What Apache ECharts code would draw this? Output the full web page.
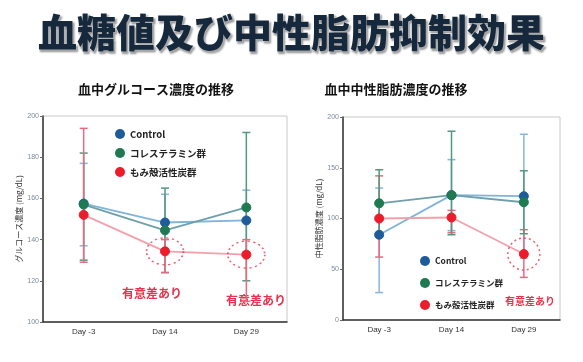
<!DOCTYPE html>
<html><head><meta charset="utf-8">
<script src="https://cdn.jsdelivr.net/npm/echarts@6/dist/echarts.min.js"></script>
<style>html,body{margin:0;padding:0;background:#fff}#c{width:583px;height:362px}</style>
</head><body><div id="c"></div>
<script>
const categories = ['Day -3', 'Day 14', 'Day 29'];
const seriesNames = ['Control', 'コレステラミン群', 'もみ殻活性炭群'];

// Glucose (mg/dL)
const gluControl = [157.5, 148.3, 149.3];
const gluControlHigh = [177, 162, 164];
const gluControlLow = [137, 134, 134];
const gluChol = [157, 144.5, 155.6];
const gluCholHigh = [182, 165, 192];
const gluCholLow = [130, 124, 120];
const gluMomi = [152, 134.3, 132.7];
const gluMomiHigh = [194, 140, 140];
const gluMomiLow = [129, 124, 110];
const gluTicks = [100, 120, 140, 160, 180, 200];

// Triglyceride (mg/dL)
const tgControl = [84, 123, 122];
const tgControlHigh = [130, 158, 183];
const tgControlLow = [27, 88, 61];
const tgChol = [115, 123, 116];
const tgCholHigh = [148, 186, 147];
const tgCholLow = [82, 84, 85];
const tgMomi = [100, 101, 65];
const tgMomiHigh = [142, 108, 89];
const tgMomiLow = [62, 86, 42];
const tgTicks = [0, 50, 100, 150, 200];

// significant points: [category index, value]
const gluSignif = [[1, 134.3], [2, 132.7]];
const tgSignif = [[2, 65]];

const markColors = ['#1d5c98', '#1f7a52', '#ec1c2a'];
const lineColors = ['#7fb4dc', '#6f9fa8', '#f2a0ac'];
const barColors = ['#86b6da', '#4f9a7c', '#e86a80'];

const chart = echarts.init(document.getElementById('c'));
const FONT = '"Noto Sans CJK JP", sans-serif';

function lineSeries(name, xi, yi, data, k) {
  return {
    type: 'line', name: name, xAxisIndex: xi, yAxisIndex: yi, data: data, z: 5,
    symbol: 'circle', symbolSize: 9,
    itemStyle: { color: markColors[k], borderColor: markColors[k] },
    lineStyle: { color: lineColors[k], width: 1.8 }
  };
}
function errSeries(name, xi, yi, lows, highs, k, z) {
  const color = barColors[k];
  return {
    type: 'custom', name: name, xAxisIndex: xi, yAxisIndex: yi, z: z,
    itemStyle: { color: markColors[k] },
    data: lows.map((l, i) => [i, l, highs[i]]),
    renderItem: function (params, api) {
      const lo = api.coord([api.value(0), api.value(1)]);
      const hi = api.coord([api.value(0), api.value(2)]);
      const w = 4;
      const st = { stroke: color, lineWidth: 1.5 };
      return { type: 'group', children: [
        { type: 'line', shape: { x1: lo[0], y1: lo[1], x2: hi[0], y2: hi[1] }, style: st },
        { type: 'line', shape: { x1: lo[0] - w, y1: lo[1], x2: lo[0] + w, y2: lo[1] }, style: st },
        { type: 'line', shape: { x1: hi[0] - w, y1: hi[1], x2: hi[0] + w, y2: hi[1] }, style: st }
      ]};
    }
  };
}
function ringSeries(xi, yi, data, size) {
  return {
    type: 'scatter', xAxisIndex: xi, yAxisIndex: yi, data: data, z: 6,
    symbol: 'circle', symbolSize: size, silent: true,
    itemStyle: { color: 'rgba(0,0,0,0)', borderColor: '#e8384f', borderWidth: 1.5, borderType: [2, 3] }
  };
}

const yLabel = { fontSize: 7, color: '#7d8a9a' };
const xLabel = { fontSize: 8, color: '#333', margin: 6 };

chart.setOption({
  animation: false,
  backgroundColor: '#fff',
  title: [
    { text: '血糖値及び中性脂肪抑制効果', left: 'center', top: 8,
      textStyle: { fontFamily: FONT, fontSize: 39, fontWeight: 900, color: '#16283c',
        textBorderColor: '#ffffff', textBorderWidth: 1,
        textShadowColor: 'rgba(0,0,0,0.35)', textShadowOffsetX: 1.5, textShadowOffsetY: 1.5, textShadowBlur: 2 } },
    { text: '血中グルコース濃度の推移', left: 151, top: 78, textAlign: 'center',
      textStyle: { fontFamily: FONT, fontSize: 13, fontWeight: 'bold', color: '#111' } },
    { text: '血中中性脂肪濃度の推移', left: 391, top: 78, textAlign: 'center',
      textStyle: { fontFamily: FONT, fontSize: 13, fontWeight: 'bold', color: '#111' } }
  ],
  legend: [
    { data: seriesNames, orient: 'vertical', left: 110, top: 124, itemGap: 9, icon: 'circle',
      itemWidth: 10, itemHeight: 10, selectedMode: false,
      textStyle: { fontFamily: FONT, fontSize: 9.5, fontWeight: 'bold', color: '#222' } },
    { data: seriesNames, orient: 'vertical', left: 415, top: 251, itemGap: 12, icon: 'circle',
      itemWidth: 10, itemHeight: 10, selectedMode: false,
      textStyle: { fontFamily: FONT, fontSize: 8.5, fontWeight: 'bold', color: '#222' } }
  ],
  grid: [
    { left: 43, right: 296, top: 116, bottom: 40, show: true, backgroundColor: '#fff', borderColor: '#c8c8c8', borderWidth: 1 },
    { left: 343, right: 23, top: 117, bottom: 42, show: true, backgroundColor: '#fff', borderColor: '#c8c8c8', borderWidth: 1 }
  ],
  xAxis: [
    { type: 'category', gridIndex: 0, data: categories, boundaryGap: true,
      axisLine: { lineStyle: { color: '#333', width: 1.5 } }, axisTick: { show: false }, axisLabel: xLabel },
    { type: 'category', gridIndex: 1, data: categories, boundaryGap: true,
      axisLine: { lineStyle: { color: '#333', width: 1.5 } }, axisTick: { show: false }, axisLabel: xLabel }
  ],
  yAxis: [
    { type: 'value', gridIndex: 0, min: gluTicks[0], max: gluTicks[gluTicks.length - 1], interval: 20,
      name: 'グルコース濃度 (mg/dL)', nameLocation: 'middle', nameGap: 18, nameRotate: 90,
      nameTextStyle: { fontFamily: FONT, fontSize: 8, color: '#333' },
      axisLine: { show: true, lineStyle: { color: '#333', width: 1.5 } },
      axisTick: { show: true, length: 3, lineStyle: { color: '#666' } },
      splitLine: { show: false }, axisLabel: Object.assign({ margin: 4 }, yLabel) },
    { type: 'value', gridIndex: 1, min: tgTicks[0], max: tgTicks[tgTicks.length - 1], interval: 50,
      name: '中性脂肪濃度 (mg/dL)', nameLocation: 'middle', nameGap: 18, nameRotate: 90,
      nameTextStyle: { fontFamily: FONT, fontSize: 8, color: '#333' },
      axisLine: { show: true, lineStyle: { color: '#333', width: 1.5 } },
      axisTick: { show: true, length: 3, lineStyle: { color: '#666' } },
      splitLine: { show: false }, axisLabel: Object.assign({ margin: 4 }, yLabel) }
  ],
  series: [
    lineSeries('Control', 0, 0, gluControl, 0),
    lineSeries('コレステラミン群', 0, 0, gluChol, 1),
    lineSeries('もみ殻活性炭群', 0, 0, gluMomi, 2),
    errSeries('Control', 0, 0, gluControlLow, gluControlHigh, 0, 2),
    errSeries('コレステラミン群', 0, 0, gluCholLow, gluCholHigh, 1, 2),
    errSeries('もみ殻活性炭群', 0, 0, gluMomiLow, gluMomiHigh, 2, 3),
    ringSeries(0, 0, gluSignif, [37, 27]),
    lineSeries('Control', 1, 1, tgControl, 0),
    lineSeries('コレステラミン群', 1, 1, tgChol, 1),
    lineSeries('もみ殻活性炭群', 1, 1, tgMomi, 2),
    errSeries('Control', 1, 1, tgControlLow, tgControlHigh, 0, 2),
    errSeries('コレステラミン群', 1, 1, tgCholLow, tgCholHigh, 1, 3),
    errSeries('もみ殻活性炭群', 1, 1, tgMomiLow, tgMomiHigh, 2, 2),
    ringSeries(1, 1, tgSignif, [32, 32])
  ],
  graphic: [
    { type: 'text', left: 122, top: 287, style: { text: '有意差あり', fontFamily: FONT, fontSize: 12, fontWeight: 'bold', fill: '#e8324e' } },
    { type: 'text', left: 226, top: 294, style: { text: '有意差あり', fontFamily: FONT, fontSize: 12, fontWeight: 'bold', fill: '#e8324e' } },
    { type: 'text', left: 505, top: 296, style: { text: '有意差あり', fontFamily: FONT, fontSize: 10, fontWeight: 'bold', fill: '#e8324e' } }
  ]
});
</script></body></html>
